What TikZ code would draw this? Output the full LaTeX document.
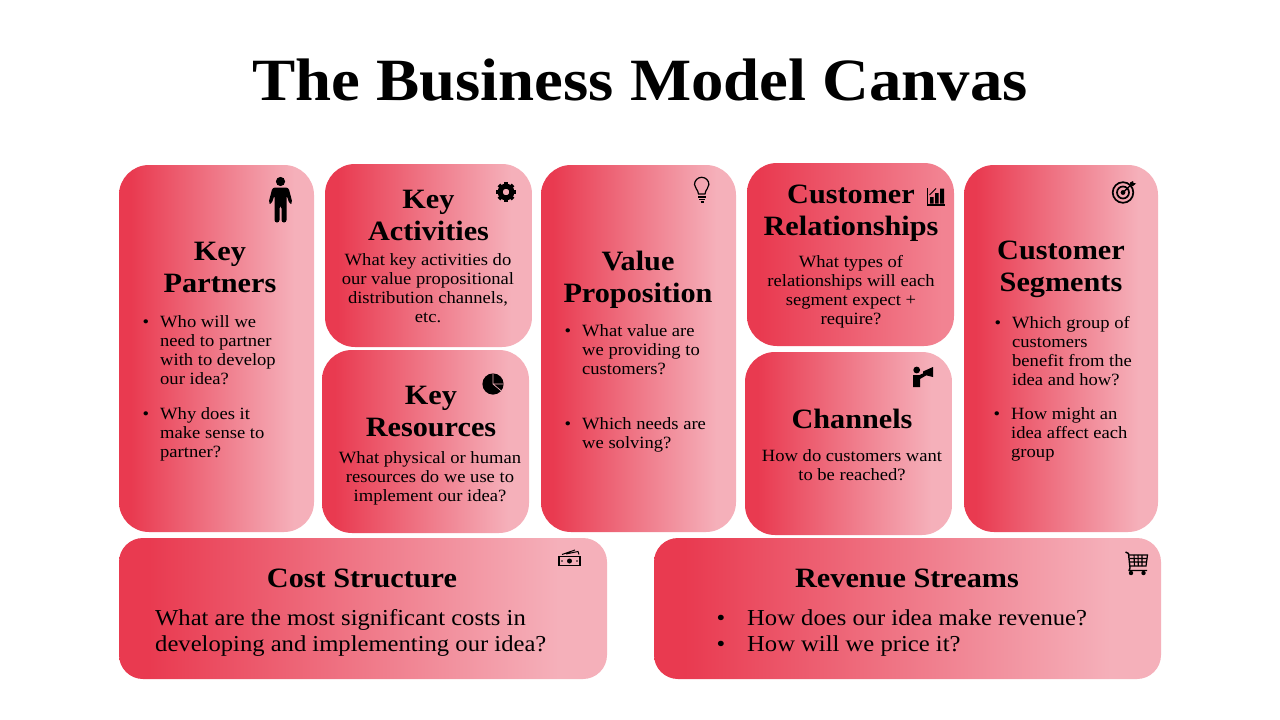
\documentclass[tikz,border=0pt]{standalone}
\usepackage{fontspec}
\newfontfamily\lora[FakeStretch=1.08]{Liberation Serif}
\definecolor{cardred}{HTML}{E93A50}
\definecolor{cardpink}{HTML}{F5B0BA}
\definecolor{cardmid}{HTML}{F28392}
\pgfdeclarehorizontalshading{redgrad}{100bp}{color(0bp)=(cardred); color(28bp)=(cardred); color(70bp)=(cardpink); color(100bp)=(cardpink)}
\pgfdeclarehorizontalshading{redgradshort}{100bp}{color(0bp)=(cardred); color(28bp)=(cardred); color(72bp)=(cardmid); color(100bp)=(cardmid)}
\tikzset{
  card/.style={inner sep=0pt,outer sep=0pt,rounded corners=#1,shade,shading=redgrad},
  card/.default=30pt,
  head/.style={font=\lora\bfseries\fontsize{28}{32}\selectfont,align=center,inner sep=0pt},
  body/.style={font=\lora\fontsize{17.2}{19}\selectfont,align=center,inner sep=0pt},
  bul/.style={font=\lora\fontsize{17.2}{19}\selectfont,align=left,inner sep=0pt,anchor=west},
  big/.style={font=\lora\fontsize{22.8}{26}\selectfont,align=left,inner sep=0pt,anchor=west},
  icon/.style={fill=black,draw=none},
  iconline/.style={draw=black,fill=none,line width=1.2pt}
}
\newcommand{\bitem}{\llap{•\hspace{11pt}}}
\begin{document}
\begin{tikzpicture}[x=1pt,y=-1pt]
\useasboundingbox (0,0) rectangle (1280,720);
\fill[white] (0,0) rectangle (1280,720);
\node[font=\lora\bfseries\fontsize{60}{66}\selectfont,inner sep=0pt] (title) at (640,80.5) {The Business Model Canvas};
% cards
\path[card] (119,165) rectangle (314,532) node[pos=.5,inner sep=0pt] (kp) {};
\path[card] (325,164) rectangle (532,347) node[pos=.5,inner sep=0pt] (ka) {};
\path[card] (322,350) rectangle (529,533) node[pos=.5,inner sep=0pt] (kr) {};
\path[card] (541,165) rectangle (736,532) node[pos=.5,inner sep=0pt] (vp) {};
\path[card,shading=redgradshort] (747,163) rectangle (954,346) node[pos=.5,inner sep=0pt] (cr) {};
\path[card] (745,352) rectangle (952,535) node[pos=.5,inner sep=0pt] (ch) {};
\path[card] (964,165) rectangle (1158,532) node[pos=.5,inner sep=0pt] (cs) {};
\path[card=24pt] (119,538) rectangle (607,679) node[pos=.5,inner sep=0pt] (cost) {};
\path[card=24pt] (654,538) rectangle (1161,679) node[pos=.5,inner sep=0pt] (rev) {};
% headings
\node[head] (kph) at (220,267) {Key\\Partners};
\node[head] (kah) at (428.5,215) {Key\\Activities};
\node[head] (krh) at (431,411) {Key\\Resources};
\node[head] (vph) at (638,280) {Value\\Proposition};
\node[head] (crh) at (851,213.5) {Customer\\Relationships};
\node[head] (chh) at (852,419) {Channels};
\node[head] (csh) at (1061,269) {Customer\\Segments};
\node[head] (costh) at (362,578) {Cost Structure};
\node[head] (revh) at (907,578) {Revenue Streams};
% body text
\node[bul] (kpa) at (160,350) {\bitem Who will we\\need to partner\\with to develop\\our idea?};
\node[bul] (kpb) at (160,434) {\bitem Why does it\\make sense to\\partner?};
\node[body] (kab) at (428,288.5) {What key activities do\\our value propositional\\distribution channels,\\etc.};
\node[body] (krb) at (430,478) {What physical or human\\resources do we use to\\implement our idea?};
\node[bul] (vpa) at (582,349.5) {\bitem What value are\\we providing to\\customers?};
\node[bul] (vpb) at (582,434.5) {\bitem Which needs are\\we solving?};
\node[body] (crb) at (851,291.5) {What types of\\relationships will each\\segment expect +\\require?};
\node[body] (chb) at (852,465) {How do customers want\\to be reached?};
\node[bul] (csa) at (1012,351) {\bitem Which group of\\customers\\benefit from the\\idea and how?};
\node[bul] (csb) at (1011,434.5) {\bitem How might an\\idea affect each\\group};
\node[big] (costb) at (155,633) {What are the most significant costs in\\developing and implementing our idea?};
\node[big] (revb) at (747,633) {\llap{•\hspace{22pt}}How does our idea make revenue?\\\llap{•\hspace{22pt}}How will we price it?};
% person
\fill[icon] (280.5,181.5) circle (4.6);
\fill[icon,rounded corners=2.5pt] (272.5,187.5) -- (288.5,187.5) -- (292.5,203) -- (289.5,204) -- (286.5,195) -- (286.5,222.5) -- (281.5,222.5) -- (281.5,206) -- (279.5,206) -- (279.5,222.5) -- (274.5,222.5) -- (274.5,195) -- (271.5,204) -- (268.5,203) -- cycle;
% gear
\draw[line width=5pt] (506,192) circle (5.8);
\foreach \a in {0,45,...,315}{\draw[line width=3.8pt] (506,192) ++(\a:7) -- ++(\a:3);}
% bulb
\draw[iconline] (698.5,194) .. controls (698,189) and (694.5,188.5) .. (694.5,184.5) arc[start angle=180,end angle=360,radius=7.2] .. controls (708.9,188.5) and (705.5,189) .. (705,194) -- cycle;
\draw[iconline] (698,197) -- (706,197) (699,199.5) -- (705,199.5) (700.5,202) -- (703.5,202);
% chart
\draw[iconline] (927.5,188) -- (927.5,205) -- (944.5,205);
\fill[icon] (930,197) rectangle (933.5,203.5) (935,193) rectangle (938.5,203.5) (940,188.5) rectangle (944,203.5);
\draw[black,line width=.9pt] (929.5,195) -- (936,188.5);
% target
\draw[iconline,line width=1.7pt] (1123,192.5) circle (10.3);
\draw[iconline,line width=1.7pt] (1123,192.5) circle (6);
\fill[icon] (1123,192.5) circle (2.4);
\draw[black,line width=1.3pt] (1123,192.5) -- (1133,183);
\fill[icon] (1130,182.5) -- (1133,181) -- (1133.5,183) -- (1136,183.5) -- (1133,186) -- (1130.5,185.5) -- cycle;
% megaphone person
\fill[icon] (916.7,370) circle (3.4);
\fill[icon] (913,375) -- (919.5,375) -- (925,372.5) -- (926,375.5) -- (920,379) -- (920,387) -- (913,387) -- cycle;
\fill[icon] (923,371.5) -- (933,367) -- (933,377) -- (923,374.5) -- cycle;
% pie
\fill[icon] (493,384) circle (10.6);
\draw[cardpink,line width=.7pt] (493,373.5) -- (493,384) -- (503.6,384) (493,384) -- (501.1,390.8);
% money
\draw[iconline,line width=1.4pt] (559,556.5) rectangle (580,565.5);
\fill[icon] (569.5,561) circle (2.5);
\fill[icon] (562,561) circle (.8) (577,561) circle (.8);
\draw[black,line width=1pt] (562,554.5) -- (575,550) (566,554) -- (578,551.5) -- (579,554.5);
% cart
\draw[iconline,line width=1.4pt,line join=round] (1125.5,552) -- (1128.5,553.5) -- (1130,568) -- (1129,570.5) -- (1147,570.5);
\draw[iconline,line width=1.2pt] (1129,555) -- (1147.5,555) -- (1146,566) -- (1130,566);
\draw[black,line width=1.1pt] (1129.5,558.5) -- (1147,558.5) (1130,562) -- (1146.5,562) (1134,555) -- (1134.5,566) (1138,555) -- (1138.3,566) (1142,555) -- (1142,566);
\fill[icon] (1131,573) circle (2.2) (1143.5,573) circle (2.2);
\end{tikzpicture}
\end{document}
